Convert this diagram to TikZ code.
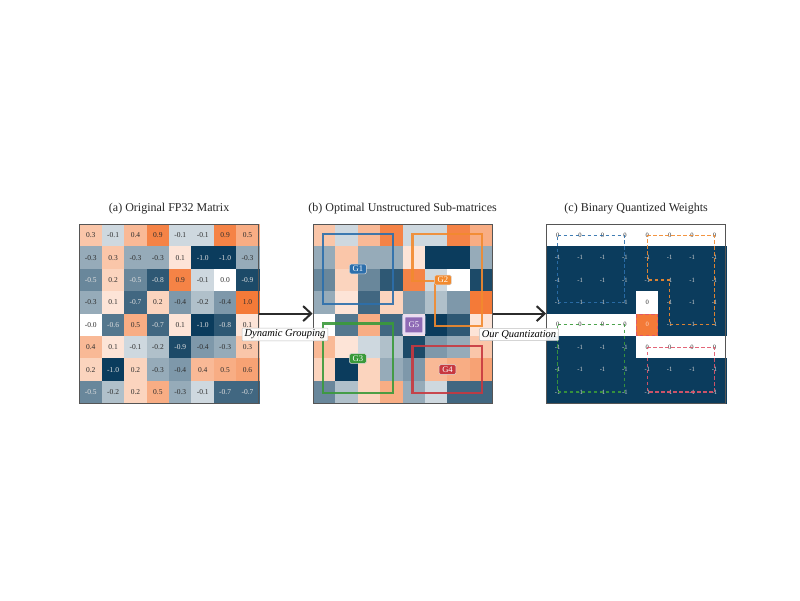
\documentclass[tikz,border=0pt]{standalone}
\usepackage{fontspec}
\setmainfont{Liberation Serif}
\usetikzlibrary{arrows.meta,calc}
\definecolor{navyc}{HTML}{0B3C5D}
\definecolor{orangec}{HTML}{F47A38}
\definecolor{gblue}{HTML}{2C6FAC}
\definecolor{gorange}{HTML}{F28A2E}
\definecolor{ggreen}{HTML}{3A9A3A}
\definecolor{gred}{HTML}{C8383F}
\definecolor{gpink}{HTML}{E0566A}
\definecolor{gpurple}{HTML}{8E6AB5}
\definecolor{gpurpleedge}{HTML}{E9DDF2}
\definecolor{framec}{HTML}{555555}
\definecolor{arrowc}{HTML}{2B2B2B}
\begin{document}
\begin{tikzpicture}[x=1pt,y=-1pt,
  cellbox/.style={minimum size=22.4pt,inner sep=0pt,line width=0.2pt},
  celltext/.style={cellbox,font=\fontsize{7.5}{8}\selectfont},
  qcell/.style={cellbox,font=\fontsize{6.6}{7}\selectfont},
  frame/.style={draw=framec,line width=0.8pt,minimum size=179.2pt,inner sep=0pt},
  title/.style={font=\fontsize{12}{14}\selectfont,text=black!85},
  flowarrow/.style={draw=arrowc,line width=2pt,-{Straight Barb[length=8pt,width=15pt,line width=2pt]}},
  lbl/.style={font=\itshape\fontsize{10.5}{12}\selectfont,fill=white,fill opacity=0.92,text opacity=1,draw=black!25,line width=0.5pt,inner xsep=2.5pt,inner ysep=1.8pt,rounded corners=1pt},
  grp/.style={line width=2.3pt,opacity=0.9},
  glabel/.style={rounded corners=1.5pt,text=white,font=\fontsize{8.6}{9}\selectfont,inner xsep=3.2pt,inner ysep=2pt,draw=white!85!black,line width=0.5pt},
  qgrp/.style={line width=1.1pt,dash pattern=on 3.5pt off 2.5pt,opacity=0.9}
]
\useasboundingbox[fill=white] (0,0) rectangle (800,600);

% (a) and (b) matrices
\foreach \row [count=\r from 0] in {%
{0.3,-0.1,0.4,0.9,-0.1,-0.1,0.9,0.5},%
{-0.3,0.3,-0.3,-0.3,0.1,-1.0,-1.0,-0.3},%
{-0.5,0.2,-0.5,-0.8,0.9,-0.1,0.0,-0.9},%
{-0.3,0.1,-0.7,0.2,-0.4,-0.2,-0.4,1.0},%
{-0.0,-0.6,0.5,-0.7,0.1,-1.0,-0.8,0.1},%
{0.4,0.1,-0.1,-0.2,-0.9,-0.4,-0.3,0.3},%
{0.2,-1.0,0.2,-0.3,-0.4,0.4,0.5,0.6},%
{-0.5,-0.2,0.2,0.5,-0.3,-0.1,-0.7,-0.7}}{%
  \foreach \v [count=\c from 0] in \row {%
    \pgfmathsetmacro\t{100*pow(abs(\v)+0.0001,0.7)}%
    \ifdim\v pt<0pt \colorlet{cellc}{navyc!\t!white}\else\colorlet{cellc}{orangec!\t!white}\fi
    \ifdim\v pt<-0.45pt \def\tc{white!88!black}\else\def\tc{black!82}\fi
    \node[celltext,fill=cellc,draw=cellc,text=\tc] (a-\r-\c) at (79.5+\c*22.4+11.2,224+\r*22.4+11.2) {\v};
    \node[cellbox,fill=cellc,draw=cellc] (b-\r-\c) at (313+\c*22.4+11.2,224+\r*22.4+11.2) {};
  }
}

% (c) matrix
\foreach \row [count=\r from 0] in {%
{w,w,w,w,w,w,w,w},%
{n,n,n,n,n,n,n,n},%
{n,n,n,n,n,n,n,n},%
{n,n,n,n,w,n,n,n},%
{w,w,w,w,o,n,n,n},%
{n,n,n,n,w,w,w,w},%
{n,n,n,n,n,n,n,n},%
{n,n,n,n,n,n,n,n}}{%
  \foreach \k [count=\c from 0] in \row {%
    \if\k n\def\fc{navyc}\def\tc{white!82!black}\def\tx{-1}\fi
    \if\k w\def\fc{white}\def\tc{black!80}\def\tx{0}\fi
    \if\k o\def\fc{orangec}\def\tc{white!72!orangec}\def\tx{0}\fi
    \node[qcell,fill=\fc,draw=\fc,text=\tc] (c-\r-\c) at (546.5+\c*22.4+11.2,224+\r*22.4+11.2) {\tx};
  }
}

% frames
\node[frame] (A) at (169.1,313.6) {};
\node[frame] (B) at (402.6,313.6) {};
\node[frame] (C) at (636.1,313.6) {};

% titles
\node[title] (tA) at (169.1,209) {(a) Original FP32 Matrix};
\node[title] (tB) at (402.6,209) {(b) Optimal Unstructured Sub-matrices};
\node[title] (tC) at (636.1,209) {(c) Binary Quantized Weights};

% groups in (b)
\draw[grp,gblue] ($(b-0-0.north west)+(10,10)$) rectangle ($(b-3-3.south east)+(-10,-10)$);
\draw[grp,ggreen] ($(b-4-0.north west)+(10,10)$) rectangle ($(b-7-3.south east)+(-10,-10)$);
\draw[grp,gred] ($(b-5-4.north west)+(10,10)$) rectangle ($(b-7-7.south east)+(-10,-10)$);
\draw[grp,gorange] ($(b-0-4.north west)+(10,10)$) -- ($(b-0-7.north east)+(-10,10)$)
  -- ($(b-4-7.south east)+(-10,-10)$) -- ($(b-4-5.south west)+(10,-10)$)
  -- ($(b-2-5.south west)+(10,-10)$) -- ($(b-2-4.south west)+(10,-10)$) -- cycle;

\node[glabel,fill=gblue] (g1) at (b-1-1.south east) {G1};
\node[glabel,fill=gorange] (g2) at ($(b-2-5.center)!0.6!(b-2-5.east)$) {G2};
\node[glabel,fill=ggreen] (g3) at (b-5-1.south east) {G3};
\node[glabel,fill=gred] (g4) at (b-6-5.east) {G4};
\node[glabel,fill=gpurple,draw=gpurpleedge,line width=3pt,minimum width=20pt,minimum height=18pt,rounded corners=0.5pt] (g5) at (b-4-4.center) {G5};

% groups in (c)
\draw[qgrp,gblue] (c-0-0.center) -- (c-0-3.center) -- (c-3-3.center) -- (c-3-0.center) -- cycle;
\draw[qgrp,ggreen] (c-4-0.center) -- (c-4-3.center) -- (c-7-3.center) -- (c-7-0.center) -- cycle;
\draw[qgrp,gpink] (c-5-4.center) -- (c-5-7.center) -- (c-7-7.center) -- (c-7-4.center) -- cycle;
\draw[qgrp,gorange] (c-0-4.center) -- (c-0-7.center) -- (c-4-7.center) -- (c-4-5.center)
  -- (c-2-5.center) -- (c-2-4.center) -- cycle;
\draw[qgrp,gpink] ($(c-4-4.north west)+(0.8,0.8)$) rectangle ($(c-4-4.south east)+(-0.8,-0.8)$);

% arrows and labels
\draw[flowarrow] (A.east) -- (B.west);
\draw[flowarrow] (B.east) -- (C.west);
\node[lbl] (dg) at (285,334.5) {Dynamic Grouping};
\node[lbl] (oq) at (519,334.5) {Our Quantization};
\end{tikzpicture}
\end{document}
